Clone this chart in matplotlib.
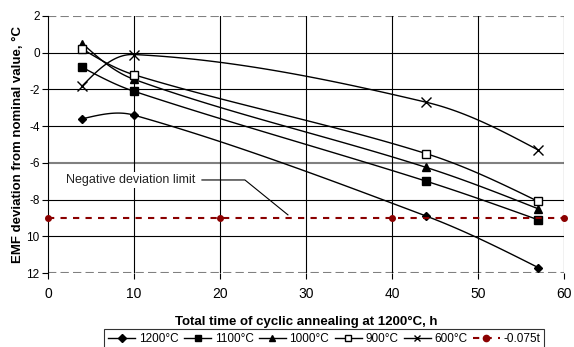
import numpy as np
import matplotlib
matplotlib.use('Agg')
import matplotlib.pyplot as plt
from matplotlib.lines import Line2D

plt.rcParams['font.family'] = ['Liberation Sans', 'DejaVu Sans']

# hours of cyclic annealing
t = [4, 10, 44, 57]
dev_1200 = [-3.6, -3.4, -8.9, -11.7]
dev_1100 = [-0.8, -2.1, -7.0, -9.1]
dev_1000 = [0.5, -1.45, -6.25, -8.5]
dev_900 = [0.2, -1.2, -5.5, -8.1]
dev_600 = [-1.8, -0.1, -2.7, -5.3]
limit_t = [0, 20, 40, 60]
limit_val = [-9, -9, -9, -9]

series = [
    ('1200°C', dev_1200, dict(marker='D', ms=4, mfc='black')),
    ('1100°C', dev_1100, dict(marker='s', ms=6, mfc='black')),
    ('1000°C', dev_1000, dict(marker='^', ms=6, mfc='black')),
    ('900°C', dev_900, dict(marker='s', ms=6, mfc='white')),
    ('600°C', dev_600, dict(marker='x', ms=7, mfc='black', mew=1)),
]
yticklabels = ['2', '0', '-2', '-4', '-6', '-8', '10', '12']

SX, SY = 8.6, 18.3  # px per data unit, so smoothing is done on screen


def smooth(x, y, n=40):
    # excel-like smoothed line: bezier with handles along neighbour chord
    p = np.column_stack([np.asarray(x, float) * SX, np.asarray(y, float) * SY])
    m = len(p)
    tang = []
    for i in range(m):
        d = p[min(i + 1, m - 1)] - p[max(i - 1, 0)]
        tang.append(d / np.hypot(*d))
    s = np.linspace(0, 1, n)[:, None]
    pts = []
    for i in range(m - 1):
        L = np.hypot(*(p[i + 1] - p[i])) / 3
        c1 = p[i] + tang[i] * L if i > 0 else p[i] + (p[i + 1] - p[i]) / 3
        c2 = p[i + 1] - tang[i + 1] * L if i + 1 < m - 1 else p[i + 1] - (p[i + 1] - p[i]) / 3
        if i == 0:
            c1 = p[i] + (c2 - p[i]) * 0.5
        if i + 1 == m - 1:
            c2 = p[i + 1] + (c1 - p[i + 1]) * 0.5
        b = ((1 - s) ** 3 * p[i] + 3 * (1 - s) ** 2 * s * c1
             + 3 * (1 - s) * s ** 2 * c2 + s ** 3 * p[i + 1])
        pts.append(b)
    pts = np.vstack(pts)
    return pts[:, 0] / SX, pts[:, 1] / SY


fig = plt.figure(figsize=(5.74, 3.47), dpi=100)
ax = fig.add_axes([0.0836, 0.213, 0.899, 0.741])

for yv in range(-12, 3, 2):
    if yv in (-12, 2):
        ax.axhline(yv, color='#808080', lw=1.5, ls=(0, (4, 2)), zorder=1)
    elif yv == -6:
        ax.axhline(yv, color='#808080', lw=1.5, zorder=1)
    else:
        ax.axhline(yv, color='black', lw=0.8, zorder=1)
for xv in range(10, 61, 10):
    ax.axvline(xv, color='black', lw=0.8, zorder=1)

for name, vals, st in series:
    xs, ys = smooth(t, vals)
    ax.plot(xs, ys, color='black', lw=1, zorder=3)
    ax.plot(t, vals, ls='none', color='black', mec='black', zorder=4, **st)

ax.plot(limit_t, limit_val, color='#8b0000', lw=1.5, ls=(0, (3, 3)),
        marker='o', ms=4, zorder=5, clip_on=False)

# leader line of the label
ax.plot([17.9, 22.9, 27.9], [-6.93, -6.93, -8.83], color='black', lw=0.8, zorder=6)
ax.text(9.6, -6.93, 'Negative deviation limit', ha='center', va='center',
        fontsize=9, color='#222222', zorder=6,
        bbox=dict(facecolor='white', edgecolor='none', pad=1.5))

ax.set_xlim(0, 60)
ax.set_ylim(-12, 2)
ax.set_xticks(range(0, 61, 10))
ax.set_yticks(range(2, -13, -2))
ax.set_yticklabels(yticklabels)
ax.tick_params(axis='x', labelsize=10, length=4, width=0.8, pad=6)
ax.tick_params(axis='y', labelsize=8.5, length=4, width=0.8, pad=2)
for side in ('top', 'right', 'bottom'):
    ax.spines[side].set_visible(False)
ax.spines['left'].set_linewidth(0.8)

ax.set_xlabel('Total time of cyclic annealing at 1200°C, h', fontsize=9.5,
              fontweight='bold', labelpad=11)
ax.set_ylabel('EMF deviation from nominal value, °C', fontsize=9.5,
              fontweight='bold', labelpad=2)

handles = []
for name, vals, st in series:
    handles.append(Line2D([], [], color='black', lw=1, mec='black', label=name, **st))
handles.append(Line2D([], [], color='#8b0000', lw=1.5, ls=(0, (3, 3)), marker='o',
                      ms=3.5, label='-0.075t'))
leg = fig.legend(handles=handles, loc='center', bbox_to_anchor=(0.565, 0.022),
                 ncol=6, fontsize=8.5, frameon=True, fancybox=False,
                 handlelength=2.3, handletextpad=0.3, columnspacing=0.45,
                 borderpad=0.35, edgecolor='black')
leg.get_frame().set_linewidth(0.8)
for h in leg.legend_handles:
    h.set_markersize(4.5)

fig.savefig('out.png', dpi=100)
